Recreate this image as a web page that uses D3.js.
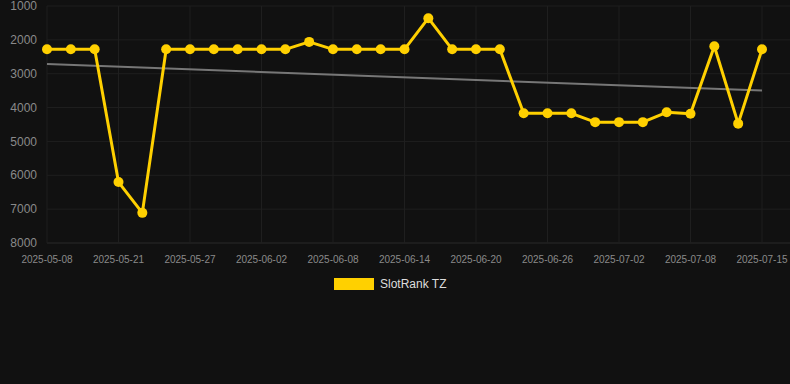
<!DOCTYPE html>
<html><head><meta charset="utf-8">
<script src="https://cdn.jsdelivr.net/npm/d3@7/dist/d3.min.js"></script>
<style>html,body{margin:0;padding:0;background:#111111;}svg{display:block;}</style>
</head><body>
<svg id="c" width="790" height="384"></svg>
<script>
const dates = ["2025-05-08","2025-05-12","2025-05-17","2025-05-21","2025-05-23","2025-05-25","2025-05-27","2025-05-29","2025-05-31","2025-06-02","2025-06-04","2025-06-06","2025-06-08","2025-06-10","2025-06-12","2025-06-14","2025-06-16","2025-06-18","2025-06-20","2025-06-22","2025-06-24","2025-06-26","2025-06-28","2025-06-30","2025-07-02","2025-07-04","2025-07-06","2025-07-08","2025-07-10","2025-07-13","2025-07-15"];
const rankValues = [2280,2280,2280,6200,7110,2280,2280,2280,2280,2280,2280,2060,2280,2280,2280,2280,1360,2280,2280,2280,4170,4170,4170,4430,4430,4430,4140,4180,2190,4475,2280];
const yTicks = [1000,2000,3000,4000,5000,6000,7000,8000];
const seriesName = "SlotRank TZ";

(function () {
const svg = d3.select("#c");
const mLeft = 47, mRight = 790, mTop = 6, mBottom = 243, lastX = 762;
const x = d3.scalePoint().domain(dates).range([mLeft, lastX]);
const y = d3.scaleLinear().domain([1000, 8000]).range([mTop, mBottom]);

// horizontal grid
svg.append("g").selectAll("line").data(yTicks).join("line")
  .attr("x1", mLeft).attr("x2", mRight)
  .attr("y1", d => y(d)).attr("y2", d => y(d))
  .attr("stroke", d => d === 8000 ? "#2a2a2a" : "#1f1f1f").attr("stroke-width", 1);

// vertical grid every 3rd category
const shown = dates.filter((d, i) => i % 3 === 0);
svg.append("g").selectAll("line").data(shown).join("line")
  .attr("x1", d => x(d)).attr("x2", d => x(d))
  .attr("y1", mTop).attr("y2", mBottom)
  .attr("stroke", "#1f1f1f").attr("stroke-width", 1);

// y labels
svg.append("g").selectAll("text").data(yTicks).join("text")
  .attr("x", 37).attr("y", d => y(d)).attr("dy", "0.35em")
  .attr("text-anchor", "end").attr("fill", "#8a8a8a")
  .attr("font-family", "Liberation Sans, Arial, sans-serif").attr("font-size", 12)
  .text(d => d);

// x labels
svg.append("g").selectAll("text").data(shown).join("text")
  .attr("x", d => x(d)).attr("y", 263)
  .attr("text-anchor", "middle").attr("fill", "#8a8a8a")
  .attr("font-family", "Liberation Sans, Arial, sans-serif").attr("font-size", 10)
  .text(d => d);

// trend line (least squares)
const n = rankValues.length;
const mx = d3.mean(d3.range(n)), my = d3.mean(rankValues);
const slope = d3.sum(d3.range(n), i => (i - mx) * (rankValues[i] - my)) / d3.sum(d3.range(n), i => (i - mx) ** 2);
const icpt = my - slope * mx;
svg.append("line")
  .attr("x1", x(dates[0])).attr("y1", y(icpt))
  .attr("x2", x(dates[n - 1])).attr("y2", y(icpt + slope * (n - 1)))
  .attr("stroke", "#777").attr("stroke-width", 2);

// series line
const line = d3.line().x((d, i) => x(dates[i])).y(d => y(d));
svg.append("path").datum(rankValues).attr("d", line)
  .attr("fill", "none").attr("stroke", "#FFD000").attr("stroke-width", 3)
  .attr("stroke-linejoin", "round");
svg.append("g").selectAll("circle").data(rankValues).join("circle")
  .attr("cx", (d, i) => x(dates[i])).attr("cy", d => y(d)).attr("r", 5)
  .attr("fill", "#FFD000");

// legend
svg.append("rect").attr("x", 334).attr("y", 278).attr("width", 40).attr("height", 12).attr("fill", "#FFD000");
svg.append("text").attr("x", 380).attr("y", 284).attr("dy", "0.35em")
  .attr("fill", "#dddddd").attr("font-family", "Liberation Sans, Arial, sans-serif").attr("font-size", 12)
  .text(seriesName);
})();
</script>
</body></html>
